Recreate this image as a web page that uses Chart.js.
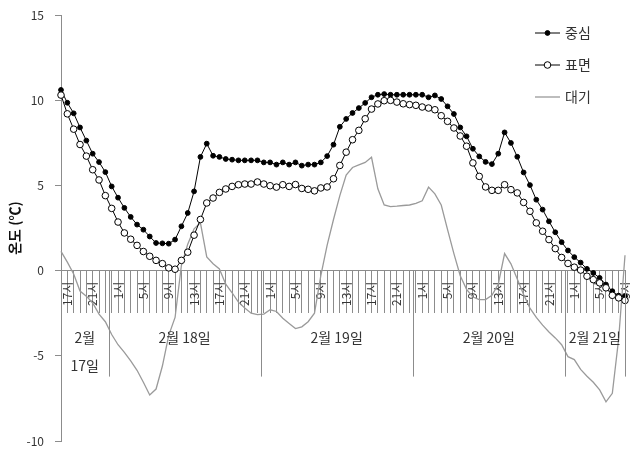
<!DOCTYPE html>
<html>
<head>
<meta charset="utf-8">
<script src="https://cdn.jsdelivr.net/npm/chart.js@4.4.0/dist/chart.umd.min.js"></script>
<style>
  html, body { margin: 0; padding: 0; background: #fff; }
  #wrap { width: 630px; height: 449px; }
</style>
</head>
<body>
<div id="wrap"><canvas id="chart" width="630" height="449"></canvas></div>
<script>
// hourly readings, 2월 17일 16시 ~ 2월 21일 9시
const hours = [
  16, 17, 18, 19, 20, 21, 22, 23,
  0, 1, 2, 3, 4, 5, 6, 7, 8, 9, 10, 11, 12, 13, 14, 15, 16, 17, 18, 19, 20, 21, 22, 23,
  0, 1, 2, 3, 4, 5, 6, 7, 8, 9, 10, 11, 12, 13, 14, 15, 16, 17, 18, 19, 20, 21, 22, 23,
  0, 1, 2, 3, 4, 5, 6, 7, 8, 9, 10, 11, 12, 13, 14, 15, 16, 17, 18, 19, 20, 21, 22, 23,
  0, 1, 2, 3, 4, 5, 6, 7, 8, 9
];
const dayLabels = [['2월', '17일'], '2월 18일', '2월 19일', '2월 20일', '2월 21일'];
const seriesNames = ['중심', '표면', '대기'];

const core = [
  10.6, 9.85, 9.23, 8.4, 7.63, 6.86, 6.37, 5.78,
  4.94, 4.28, 3.68, 3.15, 2.7, 2.4, 2.0, 1.62, 1.6, 1.58, 1.82, 2.6, 3.38, 4.65, 6.67, 7.45,
  6.74, 6.67, 6.55, 6.51, 6.47, 6.47, 6.47, 6.47, 6.35, 6.35, 6.22, 6.35, 6.22, 6.35, 6.16, 6.22,
  6.22, 6.35, 6.72, 7.39, 8.44, 8.9, 9.25, 9.54, 9.84, 10.17, 10.32, 10.36, 10.32, 10.32, 10.32, 10.32,
  10.32, 10.32, 10.17, 10.28, 10.07, 9.64, 9.19, 8.4, 7.88, 7.15, 6.7, 6.38, 6.25, 6.86, 8.11, 7.49,
  6.68, 5.76, 5.02, 4.16, 3.58, 2.89, 2.25, 1.67, 1.18, 0.79, 0.47, 0.1, -0.14, -0.43, -0.82, -1.21,
  -1.47, -1.5
];
const surface = [
  10.3, 9.2, 8.3, 7.4, 6.72, 5.92, 5.32, 4.4,
  3.65, 2.85, 2.21, 1.84, 1.48, 1.12, 0.84, 0.6, 0.41, 0.16, 0.08, 0.6, 1.08, 2.08, 3.0, 3.97,
  4.26, 4.59, 4.79, 4.94, 5.04, 5.08, 5.08, 5.2, 5.08, 4.98, 4.9, 5.04, 4.94, 5.05, 4.82, 4.77,
  4.68, 4.85, 4.91, 5.39, 6.17, 6.95, 7.68, 8.23, 8.91, 9.48, 9.78, 9.97, 9.99, 9.89, 9.79, 9.74,
  9.7, 9.6, 9.54, 9.44, 9.09, 8.76, 8.37, 7.9, 7.3, 6.32, 5.53, 4.91, 4.71, 4.71, 5.04, 4.75,
  4.56, 4.0, 3.48, 2.8, 2.31, 1.82, 1.29, 0.77, 0.42, 0.2, 0.03, -0.33, -0.53, -0.72, -1.01, -1.45,
  -1.6, -1.75
];
const air = [
  1.13, 0.5, -0.2, -1.2, -1.5, -1.9, -2.55, -3.0,
  -3.75, -4.35, -4.8, -5.3, -5.85, -6.55, -7.3, -6.95, -5.6, -3.8, -2.75, 0.3, 1.55, 2.45, 2.8, 0.8,
  0.4, 0.1, -0.8, -1.3, -1.85, -2.2, -2.5, -2.58, -2.55, -2.3, -2.4, -2.8, -3.1, -3.4, -3.3, -3.0,
  -2.5, -0.3, 1.5, 3.0, 4.4, 5.6, 6.05, 6.2, 6.35, 6.65, 4.8, 3.85, 3.75, 3.78, 3.82, 3.85,
  3.95, 4.1, 4.9, 4.5, 3.85, 2.4, 1.0, -0.3, -1.1, -1.55, -1.7, -1.7, -1.45, -0.8, 1.0, 0.4,
  -0.5, -1.4, -2.2, -2.75, -3.2, -3.6, -3.95, -4.35, -5.05, -5.22, -5.8, -6.2, -6.55, -7.0, -7.7, -7.2,
  -4.0, 0.9
];
const yTicks = [15, 10, 5, 0, -5, -10];

const FONT = "'Noto Sans CJK KR', 'Noto Sans', sans-serif";
const AXIS_GRAY = '#8c8c8c';

// day separators + date captions under the hour labels
const dayPlugin = {
  id: 'days',
  afterDraw(chart) {
    const ctx = chart.ctx;
    const xs = chart.scales.x;
    const axisY = chart.scales.y.getPixelForValue(0);
    const bounds = [0];
    hours.forEach((h, i) => { if (h === 0 && i > 0) bounds.push(i - 0.5); });
    bounds.push(hours.length - 1);

    ctx.save();
    ctx.strokeStyle = AXIS_GRAY;
    ctx.lineWidth = 1;
    bounds.slice(1).forEach(b => {
      const px = Math.round(xs.getPixelForValue(b)) + 0.5;
      ctx.beginPath();
      ctx.moveTo(px, axisY);
      ctx.lineTo(px, axisY + 106);
      ctx.stroke();
    });

    ctx.fillStyle = '#333';
    ctx.font = '14px ' + FONT;
    ctx.textAlign = 'center';
    ctx.textBaseline = 'middle';
    dayLabels.forEach((lab, d) => {
      const cx = (xs.getPixelForValue(bounds[d]) + xs.getPixelForValue(bounds[d + 1])) / 2;
      const lines = Array.isArray(lab) ? lab : [lab];
      lines.forEach((t, k) => ctx.fillText(t, cx, axisY + 67 + k * 28));
    });
    ctx.restore();
  }
};

// legend in the upper right, line + marker
const legendPlugin = {
  id: 'sideLegend',
  afterDraw(chart) {
    const ctx = chart.ctx;
    const area = chart.chartArea;
    ctx.save();
    chart.data.datasets.forEach((ds, i) => {
      const y = area.top + 18 + i * 32;
      const x0 = area.right - 90;
      const x1 = x0 + 25;
      ctx.strokeStyle = ds.borderColor;
      ctx.lineWidth = ds.borderWidth;
      ctx.beginPath();
      ctx.moveTo(x0, y);
      ctx.lineTo(x1, y);
      ctx.stroke();
      if (ds.pointRadius > 0) {
        ctx.beginPath();
        ctx.arc((x0 + x1) / 2, y, ds.pointRadius, 0, Math.PI * 2);
        ctx.fillStyle = ds.pointBackgroundColor;
        ctx.fill();
        ctx.lineWidth = 1;
        ctx.strokeStyle = ds.pointBorderColor;
        ctx.stroke();
      }
      ctx.fillStyle = '#333';
      ctx.font = '14px ' + FONT;
      ctx.textAlign = 'left';
      ctx.textBaseline = 'middle';
      ctx.fillText(ds.label, x1 + 5, y);
    });
    ctx.restore();
  }
};

new Chart(document.getElementById('chart'), {
  type: 'line',
  data: {
    labels: hours.map(h => h + '시'),
    datasets: [
      {
        label: seriesNames[0],
        data: core,
        borderColor: '#000',
        borderWidth: 1,
        pointRadius: 2.4,
        pointBackgroundColor: '#000',
        pointBorderColor: '#000',
        pointBorderWidth: 1,
        order: 2,
        clip: false
      },
      {
        label: seriesNames[1],
        data: surface,
        borderColor: '#000',
        borderWidth: 1,
        pointRadius: 3.3,
        pointBackgroundColor: '#fff',
        pointBorderColor: '#000',
        pointBorderWidth: 1,
        order: 1,
        clip: false
      },
      {
        label: seriesNames[2],
        data: air,
        borderColor: '#9a9a9a',
        borderWidth: 1.3,
        pointRadius: 0,
        order: 3,
        clip: false
      }
    ]
  },
  options: {
    responsive: false,
    animation: false,
    devicePixelRatio: 1,
    layout: { padding: { left: 0, right: 2, top: 15, bottom: 8 } },
    plugins: {
      legend: { display: false },
      tooltip: { enabled: false }
    },
    elements: { line: { tension: 0 } },
    scales: {
      x: {
        type: 'category',
        position: { y: 0 },
        offset: false,
        grid: {
          drawOnChartArea: false,
          drawTicks: true,
          tickLength: 42,
          color: AXIS_GRAY
        },
        border: { color: AXIS_GRAY },
        ticks: {
          autoSkip: false,
          minRotation: 90,
          maxRotation: 90,
          padding: -31,
          color: '#333',
          font: { family: FONT, size: 12 },
          callback: (v, i) => (hours[i] % 4 === 1 ? hours[i] + '시' : '')
        },
        afterFit: s => { s.height = 0; }
      },
      y: {
        position: 'left',
        min: -10,
        max: 15,
        afterBuildTicks: s => { s.ticks = yTicks.map(v => ({ value: v })); },
        grid: {
          drawOnChartArea: false,
          tickLength: 6,
          color: AXIS_GRAY
        },
        border: { color: AXIS_GRAY },
        ticks: {
          padding: 11,
          color: '#333',
          font: { family: FONT, size: 12 }
        },
        title: {
          display: true,
          text: '온도 (℃)',
          color: '#111',
          font: { family: FONT, size: 14, weight: 'bold' },
          padding: { top: 6, bottom: 0 }
        },
        afterFit: s => {
          s.width = 61;
          s.paddingTop = 0;
          s.paddingBottom = 0;
        }
      }
    }
  },
  plugins: [dayPlugin, legendPlugin]
});
</script>
</body>
</html>
